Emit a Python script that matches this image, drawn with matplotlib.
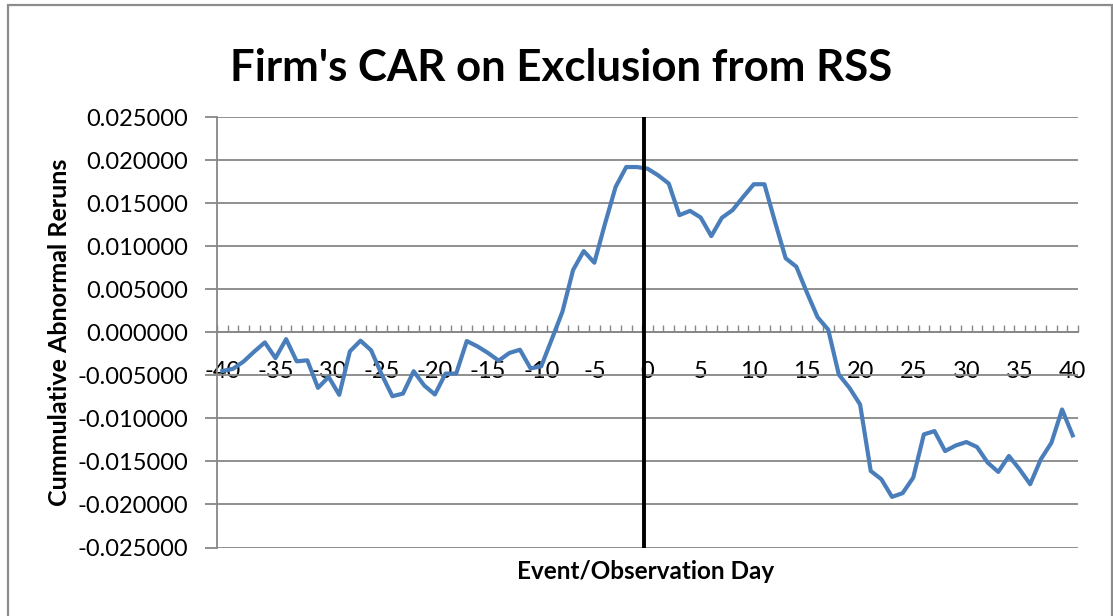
import numpy as np
from matplotlib import pyplot as plt
from matplotlib.patches import Rectangle
from matplotlib.ticker import FuncFormatter, MultipleLocator

plt.rcParams["font.family"] = ["Lato", "DejaVu Sans"]
plt.rcParams["axes.unicode_minus"] = False

# event window, day -40 .. 40
days = np.arange(-40, 41)
car = [
    -0.00450, -0.00425, -0.00340, -0.00225, -0.00118, -0.00300, -0.00080, -0.00338,
    -0.00326, -0.00646, -0.00519, -0.00727, -0.00222, -0.00098, -0.00210, -0.00492,
    -0.00743, -0.00712, -0.00453, -0.00619, -0.00723, -0.00480, -0.00480, -0.00102,
    -0.00164, -0.00241, -0.00330, -0.00241, -0.00203, -0.00420, -0.00396, -0.00080,
    0.00240, 0.00723, 0.00943, 0.00808, 0.01260, 0.01688, 0.01919, 0.01919,
    0.01900, 0.01823, 0.01727, 0.01360, 0.01410, 0.01333, 0.01117, 0.01330,
    0.01418, 0.01572, 0.01719, 0.01719, 0.01280, 0.00859, 0.00762, 0.00460,
    0.00175, 0.00030, -0.00492, -0.00646, -0.00839, -0.01611, -0.01707, -0.01912,
    -0.01869, -0.01688, -0.01186, -0.01148, -0.01380, -0.01315, -0.01275, -0.01333,
    -0.01514, -0.01622, -0.01437, -0.01591, -0.01765, -0.01476, -0.01283, -0.00897,
    -0.01198,
]
event_line = -0.3

grey = "#878787"


def fmt(v, pos):
    if abs(v) < 1e-9:
        v = 0.0
    return "%.6f" % v


fig = plt.figure(figsize=(11.13, 6.16), dpi=100)
ax = fig.add_axes([217 / 1113, 1 - 547.5 / 616, 861 / 1113, 430.5 / 616])

ax.plot(days, car, color="#4a7ebb", lw=3, solid_joinstyle="round", zorder=3)
ax.axvline(event_line, color="black", lw=2.8, zorder=4)

ax.set_xlim(-40.5, 40.5)
ax.set_ylim(-0.025, 0.025)

ax.yaxis.set_major_locator(MultipleLocator(0.005))
ax.yaxis.set_major_formatter(FuncFormatter(fmt))
ax.grid(axis="y", color=grey, lw=1.3)
ax.set_axisbelow(True)

ax.set_xticks(np.arange(-40, 41, 5))
ax.set_xticks(np.arange(-40.5, 41, 1), minor=True)
ax.tick_params(axis="x", which="major", length=0, pad=21, labelsize=17)
ax.tick_params(axis="x", which="minor", direction="in", length=5, color=grey, width=1)
ax.tick_params(axis="y", direction="out", length=9, color=grey, width=1.3, labelsize=17, pad=12)

for s in ("top", "right"):
    ax.spines[s].set_visible(False)
ax.spines["left"].set_color(grey)
ax.spines["left"].set_linewidth(1.3)
ax.spines["bottom"].set_position(("data", 0))
ax.spines["bottom"].set_color(grey)
ax.spines["bottom"].set_linewidth(1.3)

fig.text(0.5045, 1 - 81 / 616, "Firm's CAR on Exclusion from RSS", ha="center",
         va="baseline", fontsize=31.5, fontweight="bold")
fig.text(60 / 1113, 1 - 332 / 616, "Cummulative Abnormal Reruns", rotation=90,
         ha="center", va="center", fontsize=18, fontweight="bold")
fig.text(646 / 1113, 1 - 579 / 616, "Event/Observation Day", ha="center",
         va="baseline", fontsize=17.5, fontweight="bold")

fig.patches.append(Rectangle((8 / 1113, -0.02), 1104 / 1113, 1.02 - 5 / 616,
                             transform=fig.transFigure, fill=False,
                             edgecolor="#8c8c8c", lw=1.6))

fig.savefig("out.png", dpi=100)
